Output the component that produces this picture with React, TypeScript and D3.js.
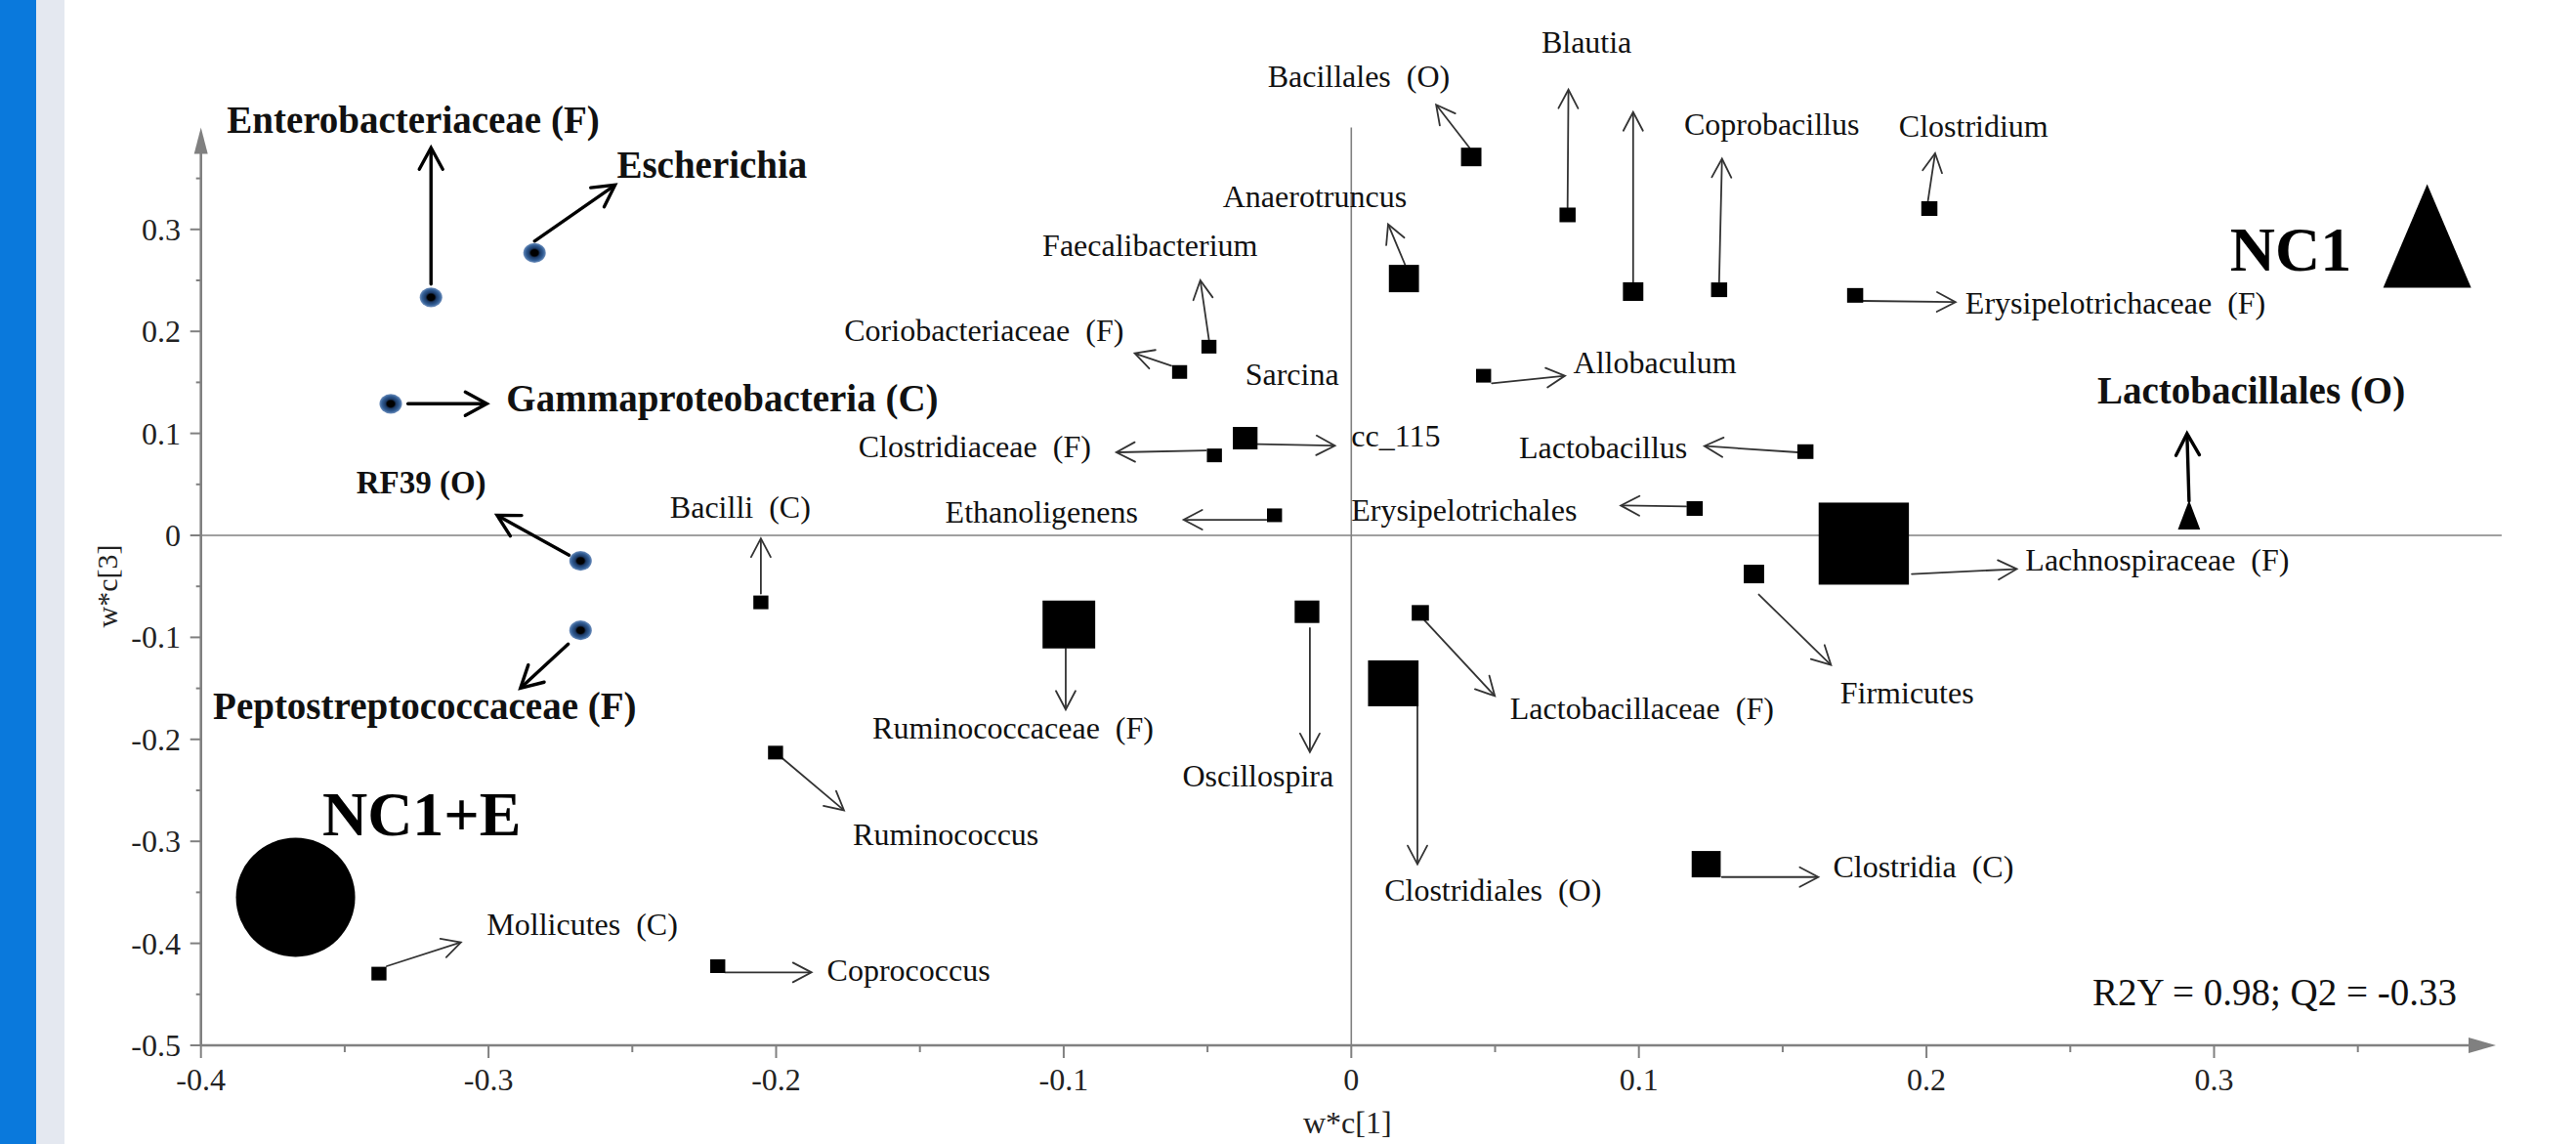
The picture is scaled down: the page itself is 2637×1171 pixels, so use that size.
import React from "react";
import * as d3 from "d3";

const W = 2637;
const H = 1171;

// ---- data (PLS loadings w*c[1] vs w*c[3]) ----
const taxa = [
  "Enterobacteriaceae (F)", "Escherichia", "Gammaproteobacteria (C)", "RF39 (O)", "Peptostreptococcaceae (F)",
  "Bacilli  (C)", "Ruminococcus", "Mollicutes  (C)", "Coprococcus", "Bacillales  (O)",
  "Blautia", "", "Anaerotruncus", "Faecalibacterium", "Coriobacteriaceae  (F)",
  "Sarcina", "cc_115", "Clostridiaceae  (F)", "Ethanoligenens", "Allobaculum",
  "Lactobacillus", "Erysipelotrichales", "Coprobacillus", "Clostridium", "Erysipelotrichaceae  (F)",
  "Lactobacillales (O)", "Lachnospiraceae  (F)", "Firmicutes", "Clostridia  (C)", "Ruminococcaceae  (F)",
  "Oscillospira", "Lactobacillaceae  (F)", "Clostridiales  (O)",
];
const wc1 = [
  -0.320, -0.284, -0.334, -0.268, -0.268,
  -0.2053, -0.2002, -0.3381, -0.2203, 0.0417,
  0.0752, 0.098, 0.0183, -0.0495, -0.0597,
  null, -0.0369, -0.0476, -0.0267, 0.046,
  0.1579, 0.1194, 0.1279, 0.201, 0.1752,
  0.2913, 0.1782, 0.14, 0.1234, -0.0982,
  -0.0154, 0.024, 0.0146,
];
const wc3 = [
  0.2334, 0.277, 0.129, -0.025, -0.0931,
  -0.0657, -0.213, -0.4297, -0.4224, 0.371,
  0.3142, 0.239, 0.2518, 0.185, 0.1602,
  null, 0.0953, 0.0784, 0.0197, 0.1565,
  0.0821, 0.0263, 0.2408, 0.3204, 0.2353,
  0.0201, -0.0081, -0.0379, -0.3224, -0.0874,
  -0.0749, -0.076, -0.1451,
];
// E = associated with NC1+E (circle), N = associated with NC1 (triangle), S = other (square), L = label only
const association = [
  "E", "E", "E", "E", "E",
  "S", "S", "S", "S", "S",
  "S", "S", "S", "S", "S",
  "L", "S", "S", "S", "S",
  "S", "S", "S", "S", "S",
  "N", "S", "S", "S", "S",
  "S", "S", "S",
];

const groups = ["NC1+E", "NC1"];
const groupWc1 = [-0.3671, 0.3741];
const groupWc3 = [-0.3549, 0.2936];

const xTicks = [-0.4, -0.3, -0.2, -0.1, 0, 0.1, 0.2, 0.3];
const xTickLabels = ["-0.4", "-0.3", "-0.2", "-0.1", "0", "0.1", "0.2", "0.3"];
const yTicks = [-0.5, -0.4, -0.3, -0.2, -0.1, 0, 0.1, 0.2, 0.3];
const yTickLabels = ["-0.5", "-0.4", "-0.3", "-0.2", "-0.1", "0", "0.1", "0.2", "0.3"];
const xMinor = [-0.35, -0.25, -0.15, -0.05, 0.05, 0.15, 0.25, 0.35];
const yMinor = [-0.45, -0.35, -0.25, -0.15, -0.05, 0.05, 0.15, 0.25, 0.35];
const statsText = "R2Y = 0.98; Q2 = -0.33";

// ---- layout of annotations (arrow ends and label anchors, in axis units) ----
const arrowFrom: ([number, number] | null)[] = [
  [-0.320, 0.2463], [-0.284, 0.2885], [-0.328, 0.129], [-0.272, -0.0194], [-0.2723, -0.1065],
  [-0.2053, -0.057], [-0.1979, -0.2184], [-0.3354, -0.4224], [-0.2178, -0.4285], [0.0411, 0.380],
  [0.0752, 0.3215], [0.098, 0.248], [0.0187, 0.2653], [-0.0495, 0.192], [-0.0626, 0.1664],
  null, [-0.0326, 0.0895], [-0.0505, 0.0832], [-0.0295, 0.0153], [0.0489, 0.1491],
  [0.1553, 0.0814], [0.1164, 0.0283], [0.1279, 0.2482], [0.2005, 0.3277], [0.178, 0.2299],
  [0.2913, 0.0337], [0.1949, -0.0379], [0.1417, -0.058], [0.1289, -0.335], [-0.0993, -0.1111],
  [-0.0144, -0.091], [0.0255, -0.0834], [0.023, -0.1676],
];
const arrowTo: ([number, number] | null)[] = [
  [-0.320, 0.380], [-0.256, 0.3435], [-0.3006, 0.129], [-0.297, 0.0197], [-0.2889, -0.1498],
  [-0.2053, -0.003], [-0.1764, -0.2696], [-0.3096, -0.399], [-0.1877, -0.4285], [0.0295, 0.4222],
  [0.0755, 0.437], [0.098, 0.415], [0.0128, 0.305], [-0.0525, 0.25], [-0.0753, 0.1785],
  null, [-0.0057, 0.0879], [-0.0817, 0.0814], [-0.0583, 0.0153], [0.0743, 0.1565],
  [0.1228, 0.0876], [0.0937, 0.0293], [0.1289, 0.3692], [0.203, 0.3746], [0.2101, 0.2287],
  [0.2906, 0.0997], [0.2314, -0.033], [0.1668, -0.1271], [0.1624, -0.335], [-0.0993, -0.1707],
  [-0.0144, -0.2125], [0.0499, -0.1575], [0.023, -0.3224],
];
const labelAt: ([number, number] | null)[] = [
  [-0.391, 0.395], [-0.2554, 0.3508], [-0.2938, 0.1217], [-0.346, 0.041], [-0.3958, -0.1805],
  [-0.2369, 0.0172], [-0.1733, -0.3035], [-0.3006, -0.3918], [-0.1823, -0.4368], [-0.0291, 0.4399],
  [0.0661, 0.4736], null, [-0.0447, 0.3222], [-0.1074, 0.2738], [-0.1763, 0.1906],
  [-0.0369, 0.1473], [0.0, 0.0869], [-0.1714, 0.0769], [-0.1412, 0.0125], [0.0772, 0.1591],
  [0.0583, 0.0759], [0.0, 0.0147], [0.1157, 0.393], [0.1904, 0.3911], [0.2135, 0.217],
  [0.2594, 0.129], [0.2344, -0.0342], [0.17, -0.165], [0.1675, -0.3357], [-0.1665, -0.1991],
  [-0.0587, -0.2466], [0.0552, -0.1802], [0.0115, -0.3584],
];
const markerPx = [
  21, 21, 21, 21, 21,
  14, 14, 14, 14, 19,
  15, 19, 28, 14, 14,
  0, 23, 14, 14, 14,
  15, 15, 15, 15, 15,
  30, 84, 19, 27, 49,
  23, 16, 47,
];
const groupLabelAt: [number, number][] = [[-0.3578, -0.294], [0.3055, 0.2591]];

const FONT = "'Liberation Serif', 'Times New Roman', serif";

const x = d3.scaleLinear().domain([-0.4, 0.4]).range([205.7, 2560.9]);
const y = d3.scaleLinear().domain([-0.5, 0.4]).range([1070, 130.4]);

function arrow(p1: [number, number], p2: [number, number], L: number, hw: number) {
  const x1 = x(p1[0]), y1 = y(p1[1]), x2 = x(p2[0]), y2 = y(p2[1]);
  const dx = x2 - x1, dy = y2 - y1;
  const len = Math.hypot(dx, dy) || 1;
  const ux = dx / len, uy = dy / len, px = -uy, py = ux;
  const line = d3.path();
  line.moveTo(x1, y1);
  line.lineTo(x2 - ux * 2, y2 - uy * 2);
  const head = d3.path();
  head.moveTo(x2 - ux * L + px * hw, y2 - uy * L + py * hw);
  head.lineTo(x2, y2);
  head.lineTo(x2 - ux * L - px * hw, y2 - uy * L - py * hw);
  return { line: line.toString(), head: head.toString() };
}

export default function App() {
  const xEnd = x(0.398);
  const yTop = y(0.4);
  const axisColor = "#808080";
  return (
    <svg
      width={W}
      height={H}
      viewBox={`0 0 ${W} ${H}`}
      style={{ position: "absolute", left: 0, top: 0, background: "#fff" }}
      fontFamily={FONT}
    >
      <defs>
        <radialGradient id="dotGrad" cx="50%" cy="50%" r="50%">
          <stop offset="0%" stopColor="#000" />
          <stop offset="32%" stopColor="#000" />
          <stop offset="48%" stopColor="#1c3a66" />
          <stop offset="78%" stopColor="#335f96" />
          <stop offset="100%" stopColor="#7090bd" />
        </radialGradient>
      </defs>
      <rect x={0} y={0} width={W} height={H} fill="#fff" />
      <rect x={0} y={0} width={37} height={H} fill="#0a79dc" />
      <rect x={37} y={0} width={29} height={H} fill="#e4e8f0" />

      {/* zero lines */}
      <line x1={x(-0.4)} x2={x(0.4)} y1={y(0)} y2={y(0)} stroke={axisColor} strokeWidth={1.6} />
      <line x1={x(0)} x2={x(0)} y1={yTop} y2={y(-0.5)} stroke={axisColor} strokeWidth={1.6} />

      {/* x axis */}
      <line x1={x(-0.4)} x2={xEnd - 26} y1={y(-0.5)} y2={y(-0.5)} stroke={axisColor} strokeWidth={2.6} />
      <path d={`M${xEnd},${y(-0.5)} L${xEnd - 28},${y(-0.5) - 8} L${xEnd - 28},${y(-0.5) + 8} Z`} fill={axisColor} />
      {xTicks.map((t) => (
        <line key={"xt" + t} x1={x(t)} x2={x(t)} y1={y(-0.5)} y2={y(-0.5) + 13} stroke={axisColor} strokeWidth={2} />
      ))}
      {xMinor.map((t) => (
        <line key={"xm" + t} x1={x(t)} x2={x(t)} y1={y(-0.5)} y2={y(-0.5) + 7} stroke={axisColor} strokeWidth={2} />
      ))}
      {xTicks.map((t, i) => (
        <text key={"xl" + t} x={x(t)} y={y(-0.5) + 46} fontSize={32} textAnchor="middle" fill="#222">
          {xTickLabels[i]}
        </text>
      ))}
      <text x={x(0) - 4} y={1160} fontSize={32} textAnchor="middle" fill="#222">w*c[1]</text>

      {/* y axis */}
      <line x1={x(-0.4)} x2={x(-0.4)} y1={y(-0.5)} y2={yTop + 26} stroke={axisColor} strokeWidth={2.6} />
      <path d={`M${x(-0.4)},${yTop} L${x(-0.4) - 7},${yTop + 27} L${x(-0.4) + 7},${yTop + 27} Z`} fill={axisColor} />
      {yTicks.map((t) => (
        <line key={"yt" + t} x1={x(-0.4) - 11} x2={x(-0.4)} y1={y(t)} y2={y(t)} stroke={axisColor} strokeWidth={2} />
      ))}
      {yMinor.map((t) => (
        <line key={"ym" + t} x1={x(-0.4) - 5} x2={x(-0.4)} y1={y(t)} y2={y(t)} stroke={axisColor} strokeWidth={2} />
      ))}
      {yTicks.map((t, i) => (
        <text key={"yl" + t} x={185} y={y(t) + 11} fontSize={32} textAnchor="end" fill="#222">
          {yTickLabels[i]}
        </text>
      ))}
      <text
        transform={`translate(120, ${600}) rotate(-90)`}
        fontSize={30}
        textAnchor="middle"
        fill="#222"
      >
        w*c[3]
      </text>

      {/* arrows */}
      {taxa.map((name, i) => {
        const from = arrowFrom[i];
        const to = arrowTo[i];
        if (!from || !to) return null;
        const strong = association[i] === "E" || association[i] === "N";
        const a = strong ? arrow(from, to, 22, 12) : arrow(from, to, 19, 10);
        return (
          <g key={"ar" + i} stroke={strong ? "#000" : "#333"} strokeWidth={strong ? 3.4 : 1.8} fill="none" strokeLinecap="round">
            <path d={a.line} />
            <path d={a.head} strokeLinejoin="miter" />
          </g>
        );
      })}

      {/* markers */}
      {taxa.map((name, i) => {
        const vx = wc1[i];
        const vy = wc3[i];
        if (vx == null || vy == null) return null;
        const cx = x(vx), cy = y(vy);
        const s = markerPx[i];
        const kind = association[i];
        if (kind === "E") {
          return <ellipse key={"mk" + i} cx={cx} cy={cy} rx={s * 0.55} ry={s * 0.48} fill="url(#dotGrad)" />;
        }
        if (kind === "N") {
          const w = s * 0.76;
          return (
            <path
              key={"mk" + i}
              d={`M${cx},${cy - s / 2} L${cx + w / 2},${cy + s / 2} L${cx - w / 2},${cy + s / 2} Z`}
              fill="#000"
            />
          );
        }
        const w = s * 1.1;
        return <rect key={"mk" + i} x={cx - w / 2} y={cy - s / 2} width={w} height={s} fill="#000" />;
      })}

      {/* labels */}
      {taxa.map((name, i) => {
        const p = labelAt[i];
        if (!p || !name) return null;
        const strong = association[i] === "E" || association[i] === "N";
        const size = strong ? (name.startsWith("RF39") ? 33 : 39) : 32;
        return (
          <text
            key={"lb" + i}
            x={x(p[0])}
            y={y(p[1])}
            fontSize={size}
            fontWeight={strong ? "bold" : "normal"}
            fill="#111"
            style={{ whiteSpace: "pre" }}
          >
            {name}
          </text>
        );
      })}

      {/* group centroids */}
      <circle cx={x(groupWc1[0])} cy={y(groupWc3[0])} r={61} fill="#000" />
      <path
        d={`M${x(groupWc1[1])},${y(groupWc3[1]) - 53} L${x(groupWc1[1]) + 45},${y(groupWc3[1]) + 53} L${x(groupWc1[1]) - 45},${y(groupWc3[1]) + 53} Z`}
        fill="#000"
      />
      {groups.map((g, i) => (
        <text
          key={"g" + g}
          x={x(groupLabelAt[i][0])}
          y={y(groupLabelAt[i][1])}
          fontSize={64}
          fontWeight="bold"
          fill="#000"
        >
          {g}
        </text>
      ))}

      <text x={2142} y={1029} fontSize={39} fill="#111" style={{ whiteSpace: "pre" }}>
        {statsText}
      </text>
    </svg>
  );
}
